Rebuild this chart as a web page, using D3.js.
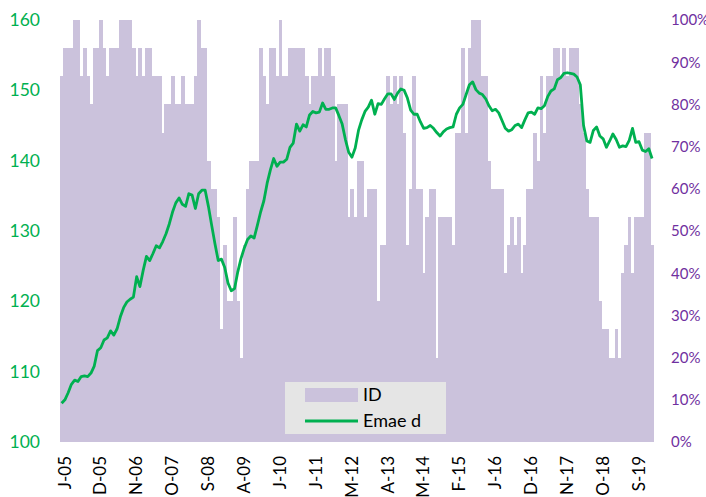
<!DOCTYPE html>
<html>
<head>
<meta charset="utf-8">
<script src="https://cdn.jsdelivr.net/npm/d3@7"></script>
<style>
	body { margin: 0; background: #fff; }
	svg text { font-family: Lato, "Liberation Sans", sans-serif; }
</style>
</head>
<body>
<div id="gv-chart"></div>
<script>

// monthly categories, Jan 2005 .. Feb 2020
const months = d3.timeMonth.range(new Date(2005, 0, 1), new Date(2020, 2, 1));

// ID, diffusion share (%), one per month
const idValues = [
	86.7,93.3,93.3,93.3,100,100,86.7,93.3,86.7,80,
	93.3,93.3,100,93.3,86.7,93.3,93.3,93.3,100,100,
	100,100,93.3,86.7,93.3,86.7,93.3,93.3,86.7,86.7,
	86.7,73.3,80,80,86.7,80,80,86.7,80,80,
	80,86.7,100,93.3,93.3,66.7,60,60,53.3,26.7,
	46.7,33.3,33.3,53.3,33.3,20,46.7,60,66.7,66.7,
	66.7,93.3,86.7,80,93.3,93.3,86.7,100,86.7,86.7,
	93.3,93.3,93.3,93.3,93.3,86.7,80,86.7,86.7,93.3,
	86.7,93.3,93.3,86.7,66.7,80,80,80,53.3,60,
	53.3,66.7,66.7,53.3,60,60,60,33.3,46.7,46.7,
	86.7,80,86.7,80,86.7,73.3,46.7,60,86.7,60,
	60,40,53.3,60,60,20,53.3,53.3,53.3,53.3,
	46.7,73.3,73.3,93.3,73.3,93.3,100,100,100,86.7,
	86.7,66.7,60,60,60,60,40,46.7,53.3,46.7,
	53.3,40,46.7,60,60,73.3,66.7,86.7,73.3,86.7,
	86.7,93.3,93.3,86.7,93.3,86.7,93.3,93.3,93.3,80,
	73.3,60,53.3,53.3,53.3,33.3,26.7,26.7,20,20,
	26.7,20,40,46.7,53.3,40,53.3,53.3,53.3,73.3,
	73.3,46.7
];

// Emae d, monthly index
const emaeValues = [
	105.5,106,107,108.2,108.8,108.6,109.3,109.4,109.3,109.8,
	110.8,113,113.4,114.5,114.8,115.8,115.2,116.1,117.8,119.1,
	119.9,120.3,120.6,123.5,122.1,124.4,126.4,125.8,126.8,127.9,
	127.6,128.5,129.6,131,132.7,134,134.7,133.8,133.5,135.3,
	135.1,133.2,135.3,135.8,135.8,133.5,130.8,128.2,125.8,126,
	124.8,122.6,121.5,121.8,124.2,126.1,127.6,128.8,129.3,129,
	130.8,132.7,134.3,136.8,138.7,140.3,139.2,139.8,139.8,140.2,
	141.9,142.5,145.2,144.2,145.1,144.8,146.5,147,146.8,146.9,
	148.2,147.3,147.3,147.5,147.5,146.4,145.2,143,141.2,140.5,
	141.8,144.3,145.8,147,147.6,148.6,146.6,148.1,148,148.8,
	149.5,149.5,148.7,149.6,150.2,150,148.9,147.2,146.6,146.6,
	145.5,144.6,144.7,145,144.6,144,143.5,144.1,144.5,144.7,
	144.8,146.6,147.5,148,149.4,150.8,151.2,150.1,149.6,149.4,
	148.8,147.8,147.1,147.3,146.8,145.7,144.6,144.2,144.4,145,
	145.2,144.7,145.8,146.8,146.9,146.6,147.5,147.4,147.8,149.1,
	149.9,150.2,151.5,151.8,152.4,152.5,152.4,152.3,151.9,150.8,
	145,142.8,142.6,144.3,144.8,143.5,143.1,141.9,142.8,143.8,
	143,141.9,142.1,142,142.9,144.6,142.6,142.7,141.5,141.3,
	141.7,140.3
];

// category labels, one every 11 months
const tickLabels = ["J-05","D-05","N-06","O-07","S-08","A-09","J-10","J-11","M-12",
	"A-13","M-14","F-15","J-16","D-16","N-17","O-18","S-19"];
const tickStep = 11;

const leftTicks = [100,110,120,130,140,150,160];
const rightTicks = [0,10,20,30,40,50,60,70,80,90,100];

const width = 706;
const height = 497;

const plot = {left: 60, right: 653.7, top: 20, bottom: 442};

const purple = '#cbc2dc';
const green = '#00b050';

let svg = d3.select('#gv-chart').append('svg')
.attr('width', width)
.attr('height', height);

let x = d3.scaleBand()
.domain(months.map((d, i) => i))
.range([plot.left, plot.right])
.padding(0);

let yLeft = d3.scaleLinear()
.domain([100, 160])
.range([plot.bottom, plot.top]);

let yRight = d3.scaleLinear()
.domain([0, 100])
.range([plot.bottom, plot.top]);

// bars
svg.append('g')
.attr('shape-rendering', 'crispEdges')
.selectAll('rect')
.data(idValues)
.enter()
.append('rect')
.attr('x', (d, i) => x(i))
.attr('width', x.bandwidth() + 0.6)
.attr('y', d => yRight(d))
.attr('height', d => yRight(0) - yRight(d))
.attr('fill', purple);

// line
let line = d3.line()
.x((d, i) => x(i) + x.bandwidth() / 2)
.y(d => yLeft(d));

svg.append('path')
.datum(emaeValues)
.attr('d', line)
.attr('fill', 'none')
.attr('stroke', green)
.attr('stroke-width', 2.8)
.attr('stroke-linejoin', 'round');

// left axis
let leftAxis = svg.append('g')
.attr('transform', 'translate(' + 40 + ',0)')
.call(d3.axisLeft(yLeft).tickValues(leftTicks).tickSize(0).tickPadding(0));

leftAxis.select('.domain').remove();
leftAxis.selectAll('text')
.attr('fill', green)
.style('font-size', '17.5px');

// right axis
let rightAxis = svg.append('g')
.attr('transform', 'translate(' + 671 + ',0)')
.call(d3.axisRight(yRight).tickValues(rightTicks).tickSize(0).tickPadding(0).tickFormat(d => d + '%'));

rightAxis.select('.domain').remove();
rightAxis.selectAll('text')
.attr('fill', '#7030a0')
.style('font-size', '15px');

// category labels
svg.append('g')
.selectAll('text')
.data(tickLabels)
.enter()
.append('text')
.attr('transform', (d, i) => {
	let cx = x(i * tickStep) + x.bandwidth() / 2 + 3;
	return 'translate(' + cx + ',' + 456 + ') rotate(-90)';
})
.attr('text-anchor', 'end')
.attr('dy', '0.35em')
.style('font-size', '17px')
.attr('fill', '#000')
.text(d => d);

// legend
let legend = svg.append('g')
.attr('transform', 'translate(285,382)');

legend.append('rect')
.attr('width', 161)
.attr('height', 52)
.attr('fill', '#e5e5e5');

legend.append('rect')
.attr('x', 20)
.attr('y', 6)
.attr('width', 53)
.attr('height', 14)
.attr('fill', purple);

legend.append('line')
.attr('x1', 20)
.attr('x2', 73)
.attr('y1', 39)
.attr('y2', 39)
.attr('stroke', green)
.attr('stroke-width', 2.8);

legend.append('text')
.attr('x', 78)
.attr('y', 13)
.attr('dy', '0.35em')
.style('font-size', '18px')
.text('ID');

legend.append('text')
.attr('x', 78)
.attr('y', 39)
.attr('dy', '0.35em')
.style('font-size', '18px')
.text('Emae d');

</script>
</body>
</html>
